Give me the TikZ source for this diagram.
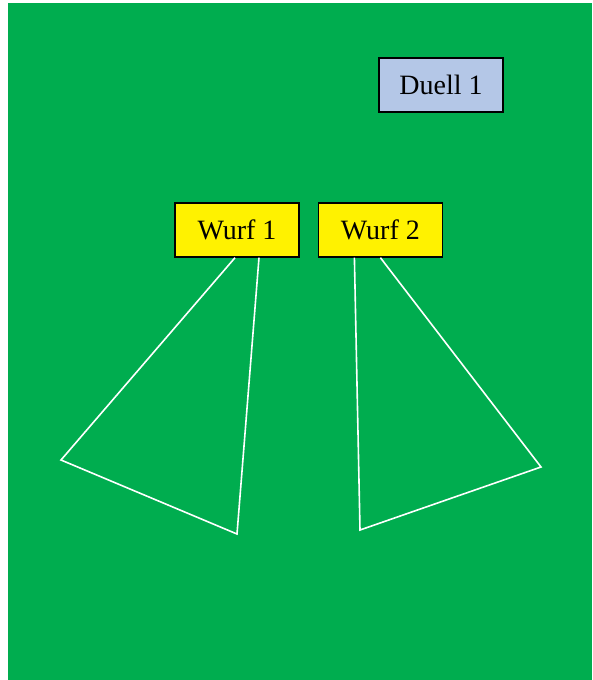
\documentclass[tikz,border=0pt]{standalone}
\usepackage{fontspec}
\setmainfont{Liberation Serif}
\usetikzlibrary{positioning}
\usetikzlibrary{calc}
\definecolor{feld}{RGB}{0,173,79}
\definecolor{duellblau}{RGB}{180,199,231}

\begin{document}
\begin{tikzpicture}[x=1pt, y=-1pt, font=\fontsize{28}{32}\selectfont, minimum width=124pt, minimum height=54pt, box/.style={draw, rectangle, line width=1.4pt, inner sep=0pt}, wurf/.style={box, fill=yellow}, linie/.style={draw=white, line width=1.6pt, line join=miter}]
        \useasboundingbox (0,0) rectangle (592,680);
        \fill[feld] (8,3) rectangle (592,680);
        \node[box, fill=duellblau] (duell) at (441,85) {Duell 1};
        \node[wurf] (wurf1) at (237,230) {Wurf 1};
        \node[wurf, right = 18pt of wurf1] (wurf2) {Wurf 2};
        \coordinate (l1) at (61,460);
        \coordinate (l2) at (237,534);
        \coordinate (r1) at (360,530);
        \coordinate (r2) at (541,467);

        \draw[linie] ([xshift=-2pt]wurf1.south) -- (l1) -- (l2) -- ([xshift=22pt]wurf1.south);
        \draw[linie] ([xshift=-26pt]wurf2.south) -- (r1) -- (r2) -- (wurf2.south);
    \end{tikzpicture}
\end{document}
